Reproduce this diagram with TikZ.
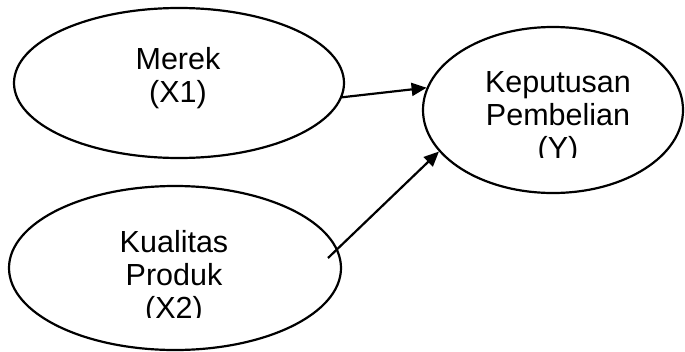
\documentclass[tikz,border=0pt]{standalone}
\usepackage{fontspec}
\setmainfont{Liberation Sans}
\usetikzlibrary{shapes.geometric,arrows.meta}

\tikzset{
  varbox/.style={ellipse, draw=black, line width=2.2pt, inner sep=0pt, fill=white},
  label/.style={align=center, inner sep=0pt, anchor=base,
    font=\fontsize{30.5}{33}\selectfont},
  link/.style={line width=2.2pt, -{Triangle[length=15pt,width=13pt]}}
}

\begin{document}
\begin{tikzpicture}[x=1pt,y=-1pt]
  \useasboundingbox (0,0) rectangle (685,351);

  % variables
  \node[varbox, minimum width=330pt, minimum height=150pt] (m) at (179,83) {};
  \node[varbox, minimum width=332pt, minimum height=164pt] (k) at (175,268) {};
  \node[varbox, minimum width=260pt, minimum height=166pt] (y) at (553,110) {};

  % captions (anchored on the last line), cut off at the bottom of their text frames
  \node[label] (mt) at (178,102) {Merek\\(X1)};
  \begin{scope}
    \clip (0,0) rectangle (360,317);
    \node[label] (kt) at (174,318) {Kualitas\\Produk\\(X2)};
  \end{scope}
  \begin{scope}
    \clip (420,0) rectangle (685,157);
    \node[label] (yt) at (558,158) {Keputusan\\Pembelian\\(Y)};
  \end{scope}

  % influences
  \coordinate (ks) at ([shift={(153,-10)}]k.center);
  \draw[link] (m.-5) -- (y.170.6);
  \draw[link] (ks) -- (y.200.7);
\end{tikzpicture}
\end{document}
